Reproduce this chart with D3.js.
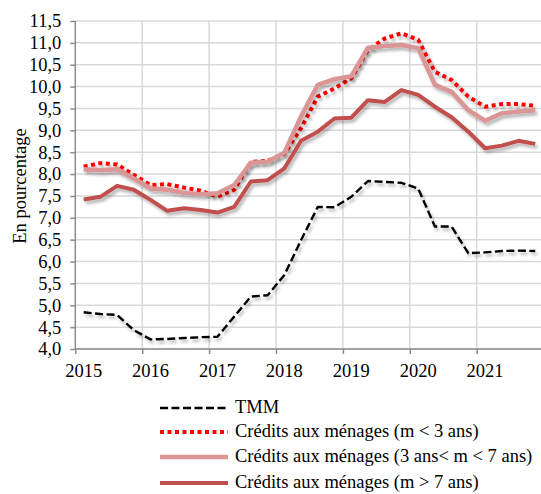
<!DOCTYPE html>
<html>
<head>
<meta charset="utf-8">
<script src="https://cdn.jsdelivr.net/npm/d3@7"></script>
<style>
  html, body { margin: 0; padding: 0; background: #fff; }
  svg { display: block; }
  svg text { font-family: "Liberation Serif", "Times New Roman", serif !important; fill: #000; }
</style>
</head>
<body>
<svg id="chart" width="541" height="494"></svg>
<script>
// Quarterly observations, 2015 T1 – 2021 T4
const periods = [
  "2015-T1","2015-T2","2015-T3","2015-T4",
  "2016-T1","2016-T2","2016-T3","2016-T4",
  "2017-T1","2017-T2","2017-T3","2017-T4",
  "2018-T1","2018-T2","2018-T3","2018-T4",
  "2019-T1","2019-T2","2019-T3","2019-T4",
  "2020-T1","2020-T2","2020-T3","2020-T4",
  "2021-T1","2021-T2","2021-T3","2021-T4"
];

const tmm = [4.84, 4.80, 4.78, 4.43, 4.22, 4.23, 4.25, 4.27, 4.28, 4.74, 5.20, 5.23, 5.69, 6.49,
             7.25, 7.24, 7.48, 7.84, 7.82, 7.80, 7.67, 6.80, 6.80, 6.19, 6.21, 6.24, 6.25, 6.24];
const creditsCourt = [8.17, 8.25, 8.22, 7.98, 7.75, 7.77, 7.69, 7.62, 7.48, 7.64, 8.28, 8.30, 8.47, 9.05,
                      9.77, 9.96, 10.19, 10.84, 11.10, 11.22, 11.07, 10.34, 10.15, 9.77, 9.54, 9.60, 9.60, 9.56];
const creditsMoyen = [8.11, 8.09, 8.11, 7.90, 7.67, 7.64, 7.57, 7.54, 7.56, 7.75, 8.26, 8.28, 8.49, 9.32,
                      10.04, 10.17, 10.24, 10.89, 10.93, 10.95, 10.88, 10.04, 9.88, 9.46, 9.22, 9.39, 9.43, 9.46];
const creditsLong = [7.42, 7.48, 7.73, 7.64, 7.41, 7.16, 7.22, 7.18, 7.12, 7.25, 7.83, 7.86, 8.13, 8.76,
                     8.97, 9.27, 9.29, 9.69, 9.65, 9.92, 9.81, 9.54, 9.30, 8.97, 8.59, 8.65, 8.76, 8.69];

const yearTicks = [2015, 2016, 2017, 2018, 2019, 2020, 2021];
const yTicks = [4.0, 4.5, 5.0, 5.5, 6.0, 6.5, 7.0, 7.5, 8.0, 8.5, 9.0, 9.5, 10.0, 10.5, 11.0, 11.5];

const seriesNames = [
  "TMM",
  "Crédits aux ménages (m < 3 ans)",
  "Crédits aux ménages (3 ans< m < 7 ans)",
  "Crédits aux ménages (m > 7 ans)"
];

(function () {
  const FONT = "'Liberation Serif', 'Times New Roman', serif";
  const SIZE = "18.5px";

  // Convert a "YYYY-Tn" period to a fractional year at the middle of the quarter
  const periodToYear = p => {
    const [yr, q] = p.split("-T").map(Number);
    return yr + (q - 0.5) / 4;
  };

  const svg = d3.select("#chart");
  const plotLeft = 75.3, plotRight = 543.6, plotTop = 21, plotBottom = 349;

  const x = d3.scaleLinear().domain([2015, 2022]).range([plotLeft, plotRight]);
  const y = d3.scaleLinear().domain([4, 11.5]).range([plotBottom, plotTop]);

  // Drop shadow for the plotted lines
  const defs = svg.append("defs");
  const f = defs.append("filter").attr("id", "shadow")
    .attr("x", "-10%").attr("y", "-10%").attr("width", "130%").attr("height", "140%");
  f.append("feDropShadow").attr("dx", 2).attr("dy", 3).attr("stdDeviation", 1.6)
    .attr("flood-color", "#000").attr("flood-opacity", 0.28);

  // Grid
  const grid = svg.append("g");
  grid.selectAll("line.h").data(yTicks).join("line").attr("class", "h")
    .attr("x1", plotLeft).attr("x2", 541)
    .attr("y1", d => y(d)).attr("y2", d => y(d))
    .attr("stroke", "#d9d9d9").attr("stroke-width", 1.5);
  grid.selectAll("line.v").data(yearTicks.slice(1)).join("line").attr("class", "v")
    .attr("x1", d => x(d)).attr("x2", d => x(d))
    .attr("y1", plotTop).attr("y2", plotBottom)
    .attr("stroke", "#d9d9d9").attr("stroke-width", 1.5);

  // Y axis
  const yAxis = d3.axisLeft(y).tickValues(yTicks).tickSize(5).tickPadding(9)
    .tickFormat(d => d3.format(".1f")(d).replace(".", ","));
  const gy = svg.append("g").attr("transform", `translate(${plotLeft},0)`).call(yAxis)
    .attr("font-family", FONT).attr("font-size", SIZE);
  gy.select(".domain").attr("stroke", "#8c8c8c").attr("stroke-width", 1.5)
    .attr("d", `M0,${plotTop}V${plotBottom}`);
  gy.selectAll(".tick line").attr("stroke", "#8c8c8c").attr("stroke-width", 1.5);
  gy.selectAll(".tick text").attr("fill", "#000");

  // X axis
  const xAxis = d3.axisBottom(x).tickValues(yearTicks).tickSize(5).tickFormat("");
  const gx = svg.append("g").attr("transform", `translate(0,${plotBottom})`).call(xAxis);
  gx.select(".domain").attr("stroke", "#8c8c8c").attr("stroke-width", 1.5)
    .attr("d", `M${plotLeft},0H541`);
  gx.selectAll(".tick line").attr("stroke", "#8c8c8c").attr("stroke-width", 1.5);
  svg.append("g").attr("font-family", FONT).attr("font-size", SIZE)
    .selectAll("text").data(yearTicks).join("text")
    .attr("x", d => x(d + 0.125)).attr("y", 377)
    .attr("text-anchor", "middle")
    .text(d => d);

  // Y axis title
  svg.append("text")
    .attr("transform", `translate(26,186) rotate(-90)`)
    .attr("text-anchor", "middle")
    .attr("font-family", FONT).attr("font-size", SIZE)
    .text("En pourcentage");

  // Lines
  const styles = [
    { values: tmm, color: "#000000", width: 2.4, dash: "8,3.5" },
    { values: creditsCourt, color: "#ff0000", width: 4, dash: "4,3.5" },
    { values: creditsMoyen, color: "#d99694", width: 4.5, dash: null },
    { values: creditsLong, color: "#c0504d", width: 4, dash: null }
  ];

  const line = d3.line().x(d => x(d.t)).y(d => y(d.v));
  const plot = svg.append("g");
  styles.forEach(s => {
    const pts = periods.map((p, i) => ({ t: periodToYear(p), v: s.values[i] }));
    plot.append("path").datum(pts)
      .attr("d", line)
      .attr("fill", "none")
      .attr("stroke", s.color)
      .attr("stroke-width", s.width)
      .attr("stroke-dasharray", s.dash)
      .attr("stroke-linejoin", "round")
      .attr("filter", "url(#shadow)");
  });

  // Legend
  const legend = svg.append("g").attr("font-family", FONT).attr("font-size", SIZE);
  const legendY = [408, 432, 457, 483];
  styles.forEach((s, i) => {
    legend.append("line")
      .attr("x1", 160).attr("x2", 228)
      .attr("y1", legendY[i]).attr("y2", legendY[i])
      .attr("stroke", s.color).attr("stroke-width", s.width)
      .attr("stroke-dasharray", s.dash);
    legend.append("text")
      .attr("x", 235).attr("y", legendY[i] + 5)
      .text(seriesNames[i]);
  });
})();
</script>
</body>
</html>
